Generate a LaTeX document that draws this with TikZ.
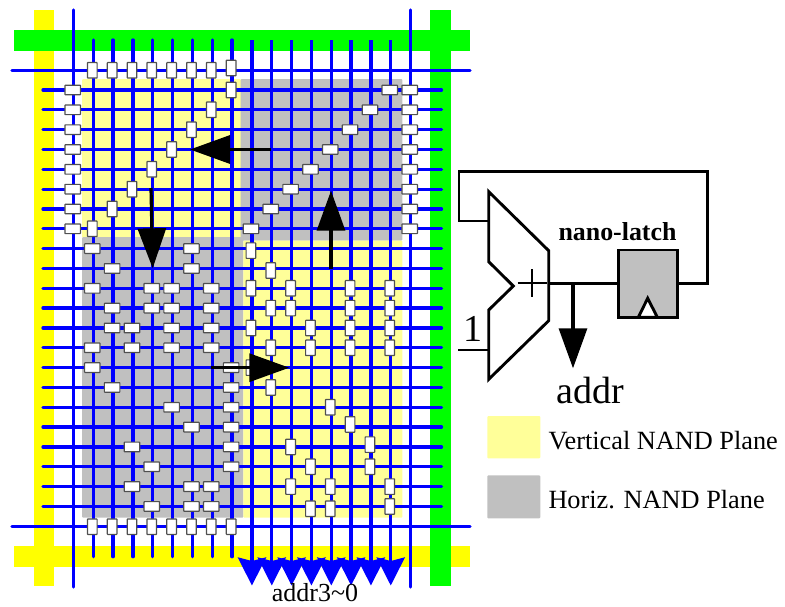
\documentclass[tikz,border=0pt]{standalone}
\usepackage{fontspec}
\setmainfont{Liberation Serif}
\usetikzlibrary{arrows.meta}
\definecolor{barblue}{HTML}{0000FF}
\definecolor{baryellow}{HTML}{FFFF00}
\definecolor{bargreen}{HTML}{00FF00}
\definecolor{planeyellow}{HTML}{FFFF99}
\definecolor{planegray}{HTML}{C0C0C0}
\definecolor{boxedge}{HTML}{505050}
\tikzset{
  x=1pt,y=-1pt,
  rail/.style={barblue,line width=3.3pt,line cap=round},
  plane/.style={rounded corners=1pt},
  hcell/.style={draw=boxedge,fill=white,line width=1.2pt,outer sep=0pt,minimum width=15.5pt,minimum height=9.6pt,inner sep=0pt,rounded corners=0.5pt},
  vcell/.style={draw=boxedge,fill=white,line width=1.2pt,outer sep=0pt,minimum width=9.6pt,minimum height=15.5pt,inner sep=0pt,rounded corners=0.5pt},
  blackarrow/.style={black,line width=3.2pt,-{Triangle[length=40pt,width=28pt]}},
  addrarrow/.style={barblue,line width=3.3pt,-{Stealth[length=28pt,width=28pt,inset=3.5pt]}},
  logic/.style={black,line width=2.9pt,line join=miter},
  label/.style={inner sep=0pt,anchor=base west,text=black},
}
\newcommand{\fsz}[1]{\fontsize{#1}{#1}\selectfont}
\begin{document}
\begin{tikzpicture}
\useasboundingbox (0,0) rectangle (785,606);
% bars
\fill[baryellow] (33.7,10) rectangle (54,586);
\fill[baryellow] (14,546) rectangle (470,566.7);
\fill[bargreen] (14,30.3) rectangle (470,51);
\fill[bargreen] (430,10) rectangle (451,586);
% planes
\fill[planeyellow,plane] (82,79) rectangle (241,237.5);
\fill[planegray,plane] (240.7,79) rectangle (402.3,240.5);
\fill[planegray,plane] (82,237) rectangle (243.3,517.7);
\fill[planeyellow,plane] (243.3,240.5) rectangle (402.3,517.7);
% word lines
\foreach \j in {0,...,21}{
  \pgfmathsetmacro{\yy}{90+19.83*\j}
  \draw[rail] (43,\yy) -- (441.5,\yy);
}
% bit lines ending on the bars
\foreach \i in {0,...,7}{
  \pgfmathsetmacro{\xx}{93.3+19.83*\i}
  \draw[rail] (\xx,40) -- (\xx,556.7);
}
% outer rails
\draw[rail] (73.3,10) -- (73.3,587);
\draw[rail] (410.3,10) -- (410.3,587);
\draw[rail] (12,70.3) -- (470,70.3);
\draw[rail] (12,526.7) -- (470,526.7);
% address bit lines with arrowheads
\foreach \i in {8,...,15}{
  \pgfmathsetmacro{\xx}{93.3+19.83*\i}
  \coordinate (atop\i) at (\xx,40);
  \coordinate (atip\i) at (\xx,585.5);
}
\foreach \i in {8,...,15}{
  \draw[addrarrow] (atop\i) -- (atip\i);
}
% top and bottom row cells
\foreach \i in {0,...,7}{
  \pgfmathsetmacro{\xx}{92.3+19.83*\i}
  \pgfmathsetmacro{\yt}{\i==7 ? 68 : 70.3}
  \node[vcell] (top\i) at (\xx,\yt) {};
  \node[vcell] (bot\i) at (\xx,526.7) {};
}
% left and right column cells
\foreach \j in {0,...,7}{
  \pgfmathsetmacro{\yy}{90+19.83*\j}
  \node[hcell] (lft\j) at (72.7,\yy) {};
  \node[hcell] (rgt\j) at (409.7,\yy) {};
}
% horizontal cells
\foreach \i/\j in {15/0,14/1,13/2,12/3,11/4,10/5,9/6,8/7,
  0/8,5/8,1/9,5/9,0/10,3/10,4/10,6/10,1/11,3/11,4/11,6/11,
  1/12,2/12,4/12,6/12,0/13,2/13,4/13,6/13,0/14,7/14,1/15,7/15,
  4/16,7/16,5/17,7/17,2/18,7/18,3/19,7/19,2/20,5/20,6/20,3/21,5/21,6/21}{
  \pgfmathsetmacro{\xx}{92.3+19.83*\i}
  \pgfmathsetmacro{\yy}{90+19.83*\j}
  \node[hcell] (h\i-\j) at (\xx,\yy) {};
}
% vertical cells
\foreach \i/\j/\d in {7/0/0,6/1/0,5/2/0,4/3/0,3/4/0,2/5/0,1/6/0,0/7/0,
  8/8/2,9/9/2,8/10/0,10/10/0,13/10/0,15/10/0,9/11/0,10/11/0,13/11/0,15/11/0,
  8/12/0,11/12/0,13/12/0,15/12/0,9/13/0,11/13/0,13/13/0,15/13/0,8/14/0,9/15/0,
  12/16/0,13/17/-2.7,10/18/0,14/18/-2.3,11/19/0,14/19/0,10/20/0,12/20/0,15/20/0,
  11/21/2.3,12/21/2.3,15/21/0}{
  \pgfmathsetmacro{\xx}{92.3+19.83*\i}
  \pgfmathsetmacro{\yy}{90+19.83*\j+\d}
  \node[vcell] (v\i-\j) at (\xx,\yy) {};
}
% black direction arrows
\coordinate (wfrom) at (270.5,149.5);
\coordinate (wto) at (190,149.5);
\coordinate (sfrom) at (151,188);
\coordinate (sto) at (152.7,268.3);
\coordinate (nfrom) at (331,268.7);
\coordinate (nto) at (331,190.7);
\coordinate (efrom) at (211,367.7);
\coordinate (eto) at (289.3,367.7);
\draw[blackarrow] (wfrom) -- (wto);
\draw[blackarrow] (sfrom) -- (sto);
\draw[blackarrow] (nfrom) -- (nto);
\draw[blackarrow] (efrom) -- (eto);
% adder / mux
\draw[logic,fill=white] (488.7,191.7) -- (548.7,250.7) -- (548.7,320.7) -- (488.7,379.3)
  -- (488.7,310) -- (513.3,286) -- (488.7,261.7) -- cycle;
\draw[black,line width=1.8pt] (517.7,283.3) -- (546.7,283.3);
\draw[black,line width=1.8pt] (531.7,269.3) -- (531.7,296.7);
% latch
\node[draw=black,fill=planegray,line width=2.9pt,outer sep=0pt,minimum width=59pt,minimum height=67.6pt,inner sep=0pt,anchor=north west] (latch) at (618.6,250) {};
\coordinate (clkl) at (638.3,317.2);
\coordinate (clkt) at (647.7,298.3);
\coordinate (clkr) at (657.3,317.2);
\draw[logic,fill=white] (clkl) -- (clkt) -- (clkr) -- cycle;
% wiring
\coordinate (muxout) at (548.7,283.3);
\coordinate (tap) at (573,283.3);
\coordinate (addrtip) at (573,368.3);
\coordinate (muxfb) at (488.7,221);
\coordinate (one) at (458.3,350);
\coordinate (muxone) at (488.7,350);
\draw[logic] (muxout) -- (latch.west |- muxout);
\draw[logic] (latch.east |- muxout) -| (707.3,171.7) -| (459,221) -- (muxfb);
\draw[logic] (one) -- (muxone);
\draw[blackarrow] (tap) -- (addrtip);
% legend
\fill[planeyellow,plane] (487.3,416) rectangle (540.3,458.3);
\fill[planegray,plane] (487.3,475.3) rectangle (540.3,518.3);
% text
\node[label] (lv) at (548.3,449.3) {\fsz{26.3}Vertical NAND Plane};
\node[label] (lh) at (548.3,508.3) {\fsz{26.3}Horiz. NAND Plane};
\node[label] (laddr) at (556.7,403.3) {\fsz{38}addr};
\node[label] (lone) at (463.2,341) {\fsz{38}1};
\node[label] (lnano) at (558.3,240) {\fsz{25.9}\bfseries nano-latch};
\node[label] (lbus) at (271.7,601.8) {\fsz{26}addr3\textasciitilde 0};
\end{tikzpicture}
\end{document}
